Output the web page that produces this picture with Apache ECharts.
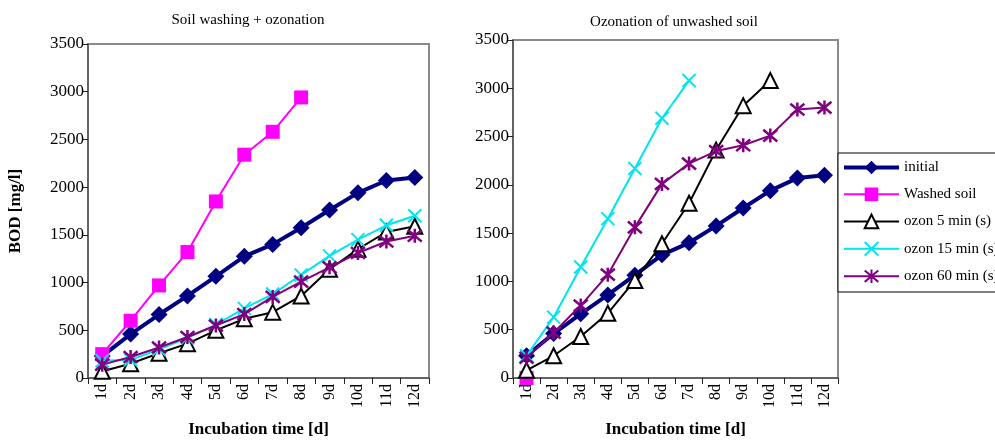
<!DOCTYPE html>
<html>
<head>
<meta charset="utf-8">
<script src="https://cdn.jsdelivr.net/npm/echarts@6/dist/echarts.min.js"></script>
<style>html,body{margin:0;padding:0;background:#fff;}#c{width:995px;height:443px;}</style>
</head>
<body>
<div id="c"></div>
<script>
// ---- data ----
var categories = ['1d','2d','3d','4d','5d','6d','7d','8d','9d','10d','11d','12d'];
var yTicks = [0, 500, 1000, 1500, 2000, 2500, 3000, 3500];
var titleLeft = 'Soil washing + ozonation';
var titleRight = 'Ozonation of unwashed soil';
var seriesNames = ['initial', 'Washed soil', 'ozon 5 min (s)', 'ozon 15 min (s)', 'ozon 60 min (s)'];

// left chart: soil washing + ozonation
var leftInitial = [230, 460, 665, 860, 1065, 1275, 1400, 1575, 1760, 1940, 2070, 2100];
var leftWashed  = [250, 600, 970, 1320, 1850, 2340, 2580, 2940, null, null, null, null];
var leftOzon5   = [70, 150, 260, 360, 500, 620, 690, 860, 1140, 1350, 1530, 1590];
var leftOzon15  = [180, 190, 300, 420, 560, 730, 880, 1080, 1280, 1450, 1600, 1700];
var leftOzon60  = [140, 220, 320, 430, 550, 670, 850, 1010, 1160, 1310, 1430, 1490];

// right chart: ozonation of unwashed soil
var rightInitial = [230, 460, 665, 860, 1065, 1275, 1400, 1575, 1760, 1940, 2070, 2100];
var rightWashed  = [0, null, null, null, null, null, null, null, null, null, null, null];
var rightOzon5   = [80, 230, 430, 670, 1010, 1390, 1810, 2360, 2820, 3080, null, null];
var rightOzon15  = [230, 630, 1150, 1650, 2170, 2690, 3080, null, null, null, null, null];
var rightOzon60  = [210, 470, 750, 1070, 1560, 2010, 2220, 2350, 2410, 2510, 2780, 2800];

// ---- styles ----
var FONT = 'Liberation Serif';
var colors = ['#000080', '#ff00ff', '#000000', '#00e5ee', '#800080'];
var lineWidths = [4, 2, 2, 2, 2];
var symX = 'path://M0,0 L10,10 M10,0 L0,10';
var symStar = 'path://M0,0 L10,10 M10,0 L0,10 M5,-1 L5,11';

function styleFor(i) {
  var base = { type: 'line', name: seriesNames[i], color: colors[i], z: 2 + i };
  if (i === 0) return Object.assign(base, { symbol: 'diamond', symbolSize: 17, lineStyle: { width: 4, color: colors[0] }, itemStyle: { color: colors[0] } });
  if (i === 1) return Object.assign(base, { symbol: 'rect', symbolSize: 14, lineStyle: { width: 2, color: colors[1] }, itemStyle: { color: colors[1] } });
  if (i === 2) return Object.assign(base, { symbol: 'triangle', symbolSize: 15, lineStyle: { width: 2, color: colors[2] }, itemStyle: { color: '#fff', borderColor: '#000', borderWidth: 2 } });
  if (i === 3) return Object.assign(base, { symbol: symX, symbolSize: 13, lineStyle: { width: 2, color: colors[3] }, itemStyle: { color: 'rgba(0,0,0,0)', borderColor: colors[3], borderWidth: 2 } });
  return Object.assign(base, { symbol: symStar, symbolSize: 14, lineStyle: { width: 2, color: colors[4] }, itemStyle: { color: 'rgba(0,0,0,0)', borderColor: colors[4], borderWidth: 2.5 } });
}

function mkSeries(dataArr, gi) {
  return dataArr.map(function (d, i) {
    var s = styleFor(i);
    s.data = d;
    s.xAxisIndex = gi; s.yAxisIndex = gi;
    s.connectNulls = false;
    s.animation = false;
    return s;
  });
}

function xAxis(gi, name) {
  return {
    type: 'category', gridIndex: gi, data: categories, boundaryGap: true,
    name: name, nameLocation: 'middle', nameGap: 43,
    nameTextStyle: { fontFamily: FONT, fontWeight: 'bold', fontSize: 17, color: '#000' },
    axisLine: { lineStyle: { color: '#555', width: 1.5 } },
    axisTick: { show: true, length: 6, lineStyle: { color: '#222' } },
    axisLabel: { rotate: 90, fontFamily: FONT, fontSize: 16, color: '#000', margin: 6 },
    splitLine: { show: false }
  };
}
function yAxis(gi, name) {
  return {
    type: 'value', gridIndex: gi, min: yTicks[0], max: yTicks[yTicks.length - 1], interval: yTicks[1] - yTicks[0],
    name: name, nameLocation: 'middle', nameGap: 64, nameRotate: 90,
    nameTextStyle: { fontFamily: FONT, fontWeight: 'bold', fontSize: 17, color: '#000' },
    axisLine: { show: true, lineStyle: { color: '#555', width: 1.5 } },
    axisTick: { show: true, length: 5, lineStyle: { color: '#222' } },
    axisLabel: { fontFamily: FONT, fontSize: 17, color: '#000', margin: 4, formatter: function (v) { return String(v); } },
    splitLine: { show: false }
  };
}

var chart = echarts.init(document.getElementById('c'), null, { renderer: 'canvas' });
chart.setOption({
  animation: false,
  backgroundColor: '#fff',
  title: [
    { text: titleLeft, left: 243, top: 8, textAlign: 'center', textStyle: { fontFamily: FONT, fontWeight: 'normal', fontSize: 15, color: '#000' } },
    { text: titleRight, left: 669, top: 10, textAlign: 'center', textStyle: { fontFamily: FONT, fontWeight: 'normal', fontSize: 15, color: '#000' } }
  ],
  grid: [
    { left: 88, top: 44, right: 566, bottom: 64, show: true, borderColor: '#8a8a8a', borderWidth: 2, backgroundColor: 'transparent' },
    { left: 513, top: 40, right: 157, bottom: 63, show: true, borderColor: '#8a8a8a', borderWidth: 2, backgroundColor: 'transparent' }
  ],
  xAxis: [xAxis(0, 'Incubation time [d]'), xAxis(1, 'Incubation time [d]')],
  yAxis: [yAxis(0, 'BOD [mg/l]'), yAxis(1, '')],
  legend: {
    orient: 'vertical', left: 838, top: 153,
    data: seriesNames.map(function (n, i) { return { name: n, lineStyle: { width: lineWidths[i] } }; }),
    itemWidth: 55, itemHeight: 17, itemGap: 11.8,
    padding: [7, 20, 8, 4],
    borderColor: '#000', borderWidth: 1, backgroundColor: '#fff',
    textStyle: { fontFamily: FONT, fontSize: 15, color: '#000' },
    selectedMode: false
  },
  series: mkSeries([leftInitial, leftWashed, leftOzon5, leftOzon15, leftOzon60], 0)
    .concat(mkSeries([rightInitial, rightWashed, rightOzon5, rightOzon15, rightOzon60], 1))
});
</script>
</body>
</html>
